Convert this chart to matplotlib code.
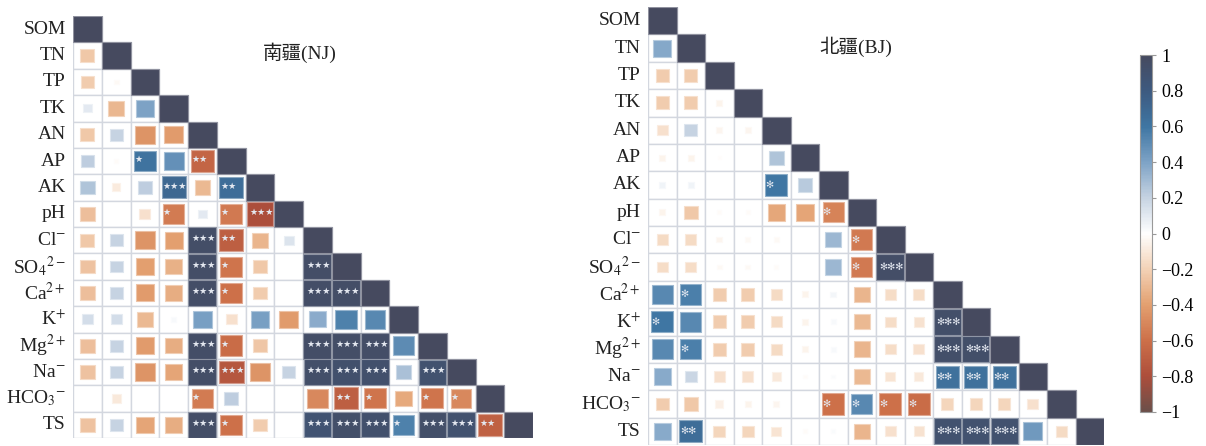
import numpy as np
import matplotlib
matplotlib.use("Agg")
import matplotlib.pyplot as plt
from matplotlib.colors import LinearSegmentedColormap, Normalize
from matplotlib.patches import Rectangle
from matplotlib.cm import ScalarMappable

plt.rcParams['font.family'] = ['Liberation Serif', 'Noto Sans CJK SC']
plt.rcParams['mathtext.fontset'] = 'stix'

labels = ['SOM', 'TN', 'TP', 'TK', 'AN', 'AP', 'AK', 'pH',
          r'Cl$^{-}$', r'SO$_4$$^{2-}$', r'Ca$^{2+}$', r'K$^{+}$',
          r'Mg$^{2+}$', r'Na$^{-}$', r'HCO$_3$$^{-}$', 'TS']

# lower triangle of the correlation matrix, rows TN..TS
nj_r = [
    [-0.24],
    [-0.22, -0.03],
    [0.10, -0.31, 0.40],
    [-0.24, 0.20, -0.45, -0.42],
    [0.22, -0.02, 0.62, 0.48, -0.66],
    [0.26, -0.09, 0.22, 0.70, -0.30, 0.66],
    [-0.28, 0.0, -0.14, -0.55, 0.10, -0.56, -0.80],
    [-0.24, 0.20, -0.45, -0.40, 0.95, -0.70, -0.32, 0.12],
    [-0.26, 0.20, -0.40, -0.33, 0.95, -0.58, -0.24, 0.0, 0.95],
    [-0.28, 0.20, -0.42, -0.35, 0.95, -0.60, -0.22, 0.0, 0.95, 0.95],
    [0.15, 0.15, -0.30, 0.03, 0.42, -0.14, 0.42, -0.42, 0.36, 0.55, 0.52],
    [-0.28, 0.20, -0.42, -0.35, 0.95, -0.62, -0.25, 0.0, 0.95, 0.95, 0.95, 0.50],
    [-0.26, 0.20, -0.45, -0.38, 0.95, -0.75, -0.45, 0.20, 0.93, 0.92, 0.92, 0.28, 0.90],
    [0.0, -0.10, 0.0, 0.0, -0.55, 0.22, 0.0, 0.0, -0.50, -0.70, -0.58, -0.36, -0.58, -0.50],
    [-0.26, 0.20, -0.38, -0.35, 0.95, -0.60, -0.22, 0.0, 0.88, 0.93, 0.92, 0.55, 0.93, 0.90, -0.68],
]
# number of significance stars, same shape
nj_sig = [
    [0],
    [0, 0],
    [0, 0, 0],
    [0, 0, 0, 0],
    [0, 0, 1, 0, 2],
    [0, 0, 0, 3, 0, 2],
    [0, 0, 0, 1, 0, 1, 3],
    [0, 0, 0, 0, 3, 2, 0, 0],
    [0, 0, 0, 0, 3, 1, 0, 0, 3],
    [0, 0, 0, 0, 3, 1, 0, 0, 3, 3],
    [0, 0, 0, 0, 0, 0, 0, 0, 0, 0, 0],
    [0, 0, 0, 0, 3, 1, 0, 0, 3, 3, 3, 0],
    [0, 0, 0, 0, 3, 3, 0, 0, 3, 3, 3, 0, 3],
    [0, 0, 0, 0, 1, 0, 0, 0, 0, 2, 1, 0, 1, 1],
    [0, 0, 0, 0, 3, 1, 0, 0, 3, 3, 3, 1, 3, 3, 2],
]

bj_r = [
    [0.38],
    [-0.22, -0.22],
    [-0.22, -0.22, -0.05],
    [-0.14, 0.20, -0.04, -0.04],
    [-0.05, -0.05, -0.01, 0.0, 0.26],
    [0.05, 0.05, 0.0, 0.0, 0.60, 0.24],
    [-0.05, -0.24, -0.02, -0.02, -0.37, -0.38, -0.52],
    [-0.16, -0.16, -0.04, -0.03, -0.03, 0.0, 0.32, -0.56],
    [-0.15, -0.15, -0.03, -0.03, -0.02, 0.0, 0.32, -0.56, 0.95],
    [0.52, 0.56, -0.22, -0.22, -0.16, -0.05, 0.04, -0.32, -0.15, -0.15],
    [0.60, 0.52, -0.22, -0.22, -0.16, -0.05, 0.03, -0.30, -0.15, -0.13, 0.93],
    [0.52, 0.56, -0.22, -0.22, -0.16, -0.05, 0.03, -0.32, -0.15, -0.14, 0.93, 0.93],
    [0.37, 0.18, -0.14, -0.14, -0.10, -0.02, 0.02, -0.30, -0.12, -0.10, 0.64, 0.64, 0.64],
    [-0.22, -0.24, -0.07, -0.05, -0.04, 0.0, -0.60, 0.52, -0.60, -0.62, -0.18, -0.18, -0.18, -0.14],
    [0.37, 0.66, -0.18, -0.18, -0.12, -0.02, 0.02, -0.32, -0.14, -0.13, 0.90, 0.90, 0.90, 0.44, -0.16],
]
bj_sig = [
    [0],
    [0, 0],
    [0, 0, 0],
    [0, 0, 0, 0],
    [0, 0, 0, 0, 0],
    [0, 0, 0, 0, 1, 0],
    [0, 0, 0, 0, 0, 0, 1],
    [0, 0, 0, 0, 0, 0, 0, 1],
    [0, 0, 0, 0, 0, 0, 0, 1, 3],
    [0, 1, 0, 0, 0, 0, 0, 0, 0, 0],
    [1, 0, 0, 0, 0, 0, 0, 0, 0, 0, 3],
    [0, 1, 0, 0, 0, 0, 0, 0, 0, 0, 3, 3],
    [0, 0, 0, 0, 0, 0, 0, 0, 0, 0, 2, 2, 2],
    [0, 0, 0, 0, 0, 0, 1, 1, 1, 1, 0, 0, 0, 0],
    [0, 2, 0, 0, 0, 0, 0, 0, 0, 0, 3, 3, 3, 0, 0],
]

cb_ticks = [-1, -0.8, -0.6, -0.4, -0.2, 0, 0.2, 0.4, 0.6, 0.8, 1]

cmap = LinearSegmentedColormap.from_list('corr', [
    (0.0, '#6b4f4a'), (0.1, '#ad4e3b'), (0.2, '#cd7049'), (0.3, '#e3a070'),
    (0.4, '#f3d2b6'), (0.5, '#ffffff'), (0.6, '#c6d3e2'), (0.7, '#7ea3c6'),
    (0.8, '#3f76a3'), (0.9, '#3d5a80'), (1.0, '#464a5f')])
norm = Normalize(-1, 1)


def draw_panel(ax, r, sig, star, title, title_xy, star_size, star_dy):
    n = len(labels)
    for i in range(n):
        for j in range(i + 1):
            ax.add_patch(Rectangle((j - 0.5, i - 0.5), 1, 1, facecolor='white',
                                   edgecolor='#d3d7df', lw=1.0, zorder=1))
            if i == j:
                val, s = 1.0, 0
            else:
                val, s = r[i - 1][j], sig[i - 1][j]
            side = np.sqrt(abs(val))
            if side > 0:
                c = np.array(cmap(norm(val)))
                edge = 0.6 * c + 0.4 * np.array([1, 1, 1, 1])
                ax.add_patch(Rectangle((j - side / 2, i - side / 2), side, side,
                                       facecolor=c, edgecolor=edge, lw=0.8,
                                       zorder=2))
            if s > 0:
                ax.text(j - 0.38, i + star_dy, star * s, ha='left', va='center',
                        color='#e4e8f0', fontsize=star_size, zorder=3,
                        family='DejaVu Sans')
        ax.text(-0.75, i, labels[i], ha='right', va='center', fontsize=14,
                color='#222222')
    ax.text(title_xy[0], title_xy[1], title, ha='center', va='center',
            fontsize=14, color='#222222')
    ax.set_xlim(-0.5, n - 0.5)
    ax.set_ylim(n - 0.5, -0.5)
    ax.axis('off')


fig = plt.figure(figsize=(12.06, 4.46), dpi=100)
ax1 = fig.add_axes([73 / 1206, 8 / 446, 460 / 1206, 422 / 446])
ax2 = fig.add_axes([648 / 1206, 1 / 446, 456 / 1206, 438 / 446])
draw_panel(ax1, nj_r, nj_sig, '★', '南疆(NJ)', (7.4, 0.9), 6.5, -0.05)
draw_panel(ax2, bj_r, bj_sig, '✻', '北疆(BJ)', (6.8, 0.95), 7, 0.0)

cax = fig.add_axes([1140 / 1206, 34 / 446, 12 / 1206, 357 / 446])
cb = fig.colorbar(ScalarMappable(norm=norm, cmap=cmap), cax=cax, ticks=cb_ticks)
cb.ax.set_yticklabels([('\u2212' + '{:g}'.format(-t)) if t < 0 else '{:g}'.format(t)
                       for t in cb_ticks])
cb.ax.tick_params(labelsize=13, length=3, color='#999999')
cb.outline.set_edgecolor('#999999')

fig.savefig('out.png', dpi=100)
